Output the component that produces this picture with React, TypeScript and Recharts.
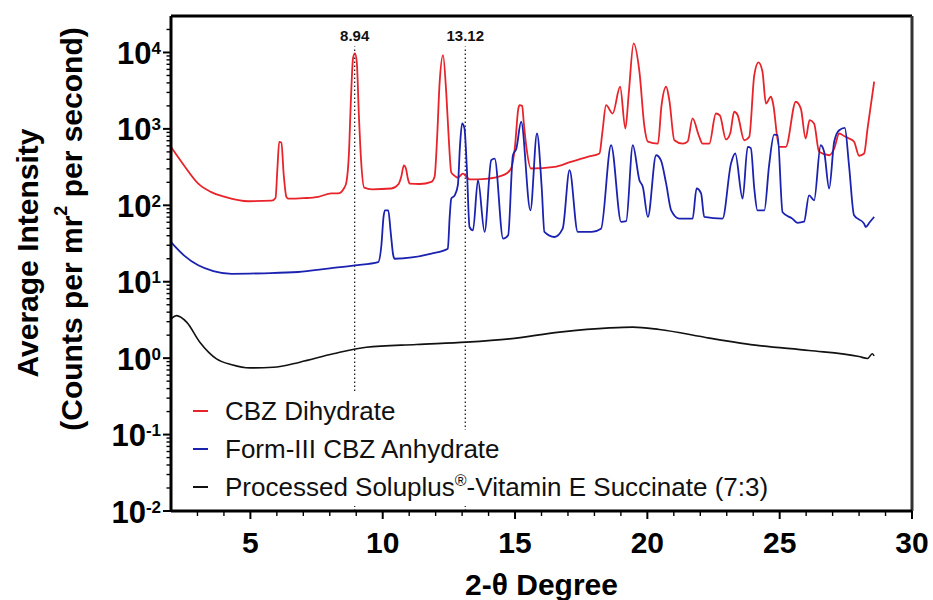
import React from 'react';
import { LineChart, Line, XAxis, YAxis, ReferenceLine, Legend } from 'recharts';

// ---- data (2-theta degree, average intensity) ----
const dihydrate: [number, number][] = [
  [2.0, 580], [2.5, 330], [3.03, 192], [3.5, 150], [4.04, 129], [4.92, 113], [5.8, 115], [5.95, 125],
  [6.02, 300], [6.09, 678], [6.17, 660], [6.26, 250], [6.36, 129], [6.43, 122], [7.0, 124], [7.56, 129],
  [8.06, 143], [8.31, 143], [8.55, 170], [8.63, 203], [8.72, 450], [8.8, 2500], [8.88, 8500], [8.95, 9730],
  [9.02, 7500], [9.1, 1500], [9.18, 400], [9.3, 170], [9.6, 162], [10.33, 166], [10.6, 190], [10.7, 236],
  [10.8, 334], [10.88, 300], [10.95, 224], [11.02, 192], [11.4, 190], [11.84, 203], [11.96, 236],
  [12.05, 700], [12.15, 4000], [12.28, 9250], [12.4, 3000], [12.5, 700], [12.59, 270], [12.72, 243],
  [12.84, 230], [13.03, 259], [13.15, 240], [13.28, 218], [13.9, 222], [14.6, 252], [14.85, 303],
  [15.0, 600], [15.12, 1800], [15.17, 2040], [15.27, 2000], [15.33, 1200], [15.42, 611], [15.6, 303],
  [16.49, 318], [17.1, 370], [17.74, 431], [18.19, 476], [18.3, 900], [18.44, 2040], [18.69, 1590],
  [18.97, 3560], [19.17, 1010], [19.3, 3000], [19.48, 13150], [19.7, 5600], [19.89, 1065], [20.02, 680],
  [20.4, 640], [20.53, 1960], [20.71, 3560], [20.83, 2380], [21.02, 710], [21.34, 640], [21.52, 680],
  [21.71, 1370], [21.94, 826], [22.09, 640], [22.34, 640], [22.59, 1590], [22.74, 1500], [22.97, 727],
  [23.13, 870], [23.28, 1675], [23.41, 1520], [23.66, 710], [23.85, 788], [24.04, 5060], [24.2, 7420],
  [24.35, 5600], [24.48, 2150], [24.67, 2640], [24.75, 2150], [24.98, 581], [25.23, 581], [25.61, 2266],
  [25.8, 1840], [25.98, 748], [26.13, 1300], [26.3, 1180], [26.49, 501], [26.87, 452], [27.06, 553],
  [27.25, 870], [27.45, 800], [27.62, 748], [27.81, 680], [28.0, 445], [28.19, 476], [28.32, 1010],
  [28.57, 4140],
];

const anhydrate: [number, number][] = [
  [2.0, 33], [2.5, 22], [3.03, 16.4], [3.6, 13.8], [4.29, 12.7], [5.5, 12.9], [6.8, 13.4], [8.0, 15],
  [8.94, 16.4], [9.83, 18.1], [9.95, 30], [10.03, 70], [10.08, 86], [10.21, 86], [10.3, 45], [10.4, 22],
  [10.45, 20], [11.84, 23.3], [12.46, 27], [12.53, 70], [12.59, 122], [12.72, 135], [12.84, 184],
  [12.92, 600], [13.0, 1180], [13.09, 1010], [13.18, 300], [13.28, 52], [13.41, 47], [13.6, 213],
  [13.85, 44.8], [14.1, 389], [14.23, 409], [14.55, 36.6], [14.74, 40.5], [14.92, 452], [15.05, 553],
  [15.23, 1240], [15.58, 86], [15.83, 870], [16.01, 166], [16.11, 44.8], [16.49, 38.5], [16.8, 49.5],
  [17.06, 288], [17.37, 44.8], [17.9, 45], [18.25, 49.5], [18.63, 611], [19.01, 60.6], [19.2, 62],
  [19.45, 611], [19.7, 213], [19.83, 174], [20.02, 70.5], [20.33, 452], [20.51, 389], [20.71, 192],
  [20.9, 86], [21.21, 67], [21.71, 67], [21.86, 166], [22.03, 143], [22.15, 70.5], [22.84, 67],
  [23.16, 351], [23.32, 476], [23.6, 122], [23.79, 581], [23.91, 560], [24.04, 166], [24.16, 86],
  [24.42, 86], [24.6, 334], [24.79, 840], [24.92, 826], [25.11, 81], [25.48, 67], [25.67, 59],
  [25.92, 61], [26.11, 135], [26.3, 116], [26.55, 611], [26.68, 501], [26.87, 166], [27.06, 680],
  [27.25, 961], [27.46, 1030], [27.62, 334], [27.81, 74], [28.19, 57.6], [28.25, 52], [28.4, 60],
  [28.57, 70.5],
];

const soluplus: [number, number][] = [
  [2.0, 3.27], [2.21, 3.6], [2.59, 2.96], [3.09, 1.62], [3.72, 0.98], [4.3, 0.82], [4.98, 0.746],
  [5.86, 0.76], [6.87, 0.886], [8.13, 1.14], [9.38, 1.39], [11.27, 1.51], [13.16, 1.62], [14.79, 1.79],
  [16.68, 2.19], [18.57, 2.49], [19.45, 2.55], [20.45, 2.37], [22.34, 1.83], [24.23, 1.46], [26.11, 1.26],
  [28.0, 1.05], [28.32, 0.99], [28.5, 1.14], [28.57, 1.07],
];

const xTicks = [3, 4, 5, 6, 7, 8, 9, 10, 11, 12, 13, 14, 15, 16, 17, 18, 19, 20, 21, 22, 23, 24, 25, 26, 27, 28, 29, 30];
const yDecades = [0.01, 0.1, 1, 10, 100, 1000, 10000];
const yMinorMultipliers = [2, 3, 4, 5, 6, 7, 8, 9];
const markers = [8.94, 13.12];

const FONT = '"Liberation Sans", Arial, Helvetica, sans-serif';

const toRows = (pts: [number, number][]) => pts.map(([x, y]) => ({ x, y }));

const series = [
  { name: 'CBZ Dihydrate', color: '#e8232a', data: toRows(dihydrate), width: 1.8 },
  { name: 'Form-III CBZ Anhydrate', color: '#1c22b0', data: toRows(anhydrate), width: 1.8 },
  { name: 'Processed Soluplus', color: '#111111', data: toRows(soluplus), width: 1.6 },
];

const yTicks: number[] = [];
yDecades.forEach((d) => {
  yTicks.push(d);
  if (d < 10000) yMinorMultipliers.forEach((m) => yTicks.push(+(d * m).toPrecision(3)));
});
yTicks.push(20000);

const YTick = (props: any) => {
  const { x, y, payload } = props;
  const v = payload.value;
  const lg = Math.log10(v);
  const e = Math.round(lg);
  const major = Math.abs(lg - e) < 1e-6;
  return (
    <g>
      <line x1={x} x2={x - (major ? 8 : 4.5)} y1={y} y2={y} stroke="#000" strokeWidth={major ? 2 : 1.4} />
      {major && (
        <text x={x - 10} y={y + 11.5} textAnchor="end" fontFamily={FONT} fontSize={31} fontWeight="bold" fill="#000">
          10
          <tspan dy={-10} fontSize={17}>{e}</tspan>
        </text>
      )}
    </g>
  );
};

const XTick = (props: any) => {
  const { x, y, payload } = props;
  const v = payload.value;
  const major = v % 5 === 0;
  return (
    <g>
      <line x1={x} x2={x} y1={y} y2={y + (major ? 8 : 5)} stroke="#000" strokeWidth={major ? 2 : 1.4} />
      {major && (
        <text x={x} y={y + 42} textAnchor="middle" fontFamily={FONT} fontSize={30} fontWeight="bold" fill="#000">
          {v}
        </text>
      )}
    </g>
  );
};

const XTitle = (props: any) => {
  const vb = props.viewBox || { x: 171, y: 511, width: 741 };
  return (
    <text x={vb.x + vb.width / 2} y={vb.y + 84} textAnchor="middle" fontFamily={FONT} fontSize={30} fontWeight="bold" fill="#000">
      2-θ Degree
    </text>
  );
};

const YTitle = () => (
  <g fontFamily={FONT} fontWeight="bold" fill="#000">
    <text x={38} y={253} transform="rotate(-90, 38, 253)" textAnchor="middle" fontSize={30}>
      Average Intensity
    </text>
    <text x={82} y={229} transform="rotate(-90, 82, 229)" textAnchor="middle" fontSize={30}>
      <tspan>(Counts per mr</tspan>
      <tspan dy={-15} fontSize={18}>2</tspan>
      <tspan dy={15}> per second)</tspan>
    </text>
  </g>
);

const LegendBox = () => (
  <div style={{ fontFamily: FONT, fontSize: 26, color: '#111' }}>
    {series.map((s, i) => (
      <div
        key={s.name}
        style={{ display: 'flex', alignItems: 'center', height: 38, background: '#fff', width: 'fit-content', paddingRight: 4 }}
      >
        <span style={{ display: 'inline-block', width: 15, height: 2, background: s.color, marginLeft: 8, marginRight: 17 }} />
        <span style={{ whiteSpace: 'nowrap', lineHeight: '38px' }}>
          {i === 2 ? (
            <>
              Processed Soluplus<sup style={{ fontSize: 16, lineHeight: 0 }}>®</sup>-Vitamin E Succinate (7:3)
            </>
          ) : (
            s.name
          )}
        </span>
      </div>
    ))}
  </div>
);

export default function App() {
  return (
    <div style={{ position: 'absolute', left: 0, top: 0, width: 933, height: 600, background: '#fff' }}>
      <LineChart width={933} height={600} margin={{ top: 16, right: 21, bottom: 0, left: 0 }}>
        <XAxis
          dataKey="x"
          type="number"
          domain={[2, 30]}
          ticks={xTicks}
          interval={0}
          allowDataOverflow
          tickSize={0}
          tickMargin={0}
          tickLine={false}
          tick={<XTick />}
          axisLine={{ stroke: '#000', strokeWidth: 3 }}
          height={89}
          label={{ content: <XTitle /> }}
        />
        <YAxis
          type="number"
          scale="log"
          domain={[0.01, 30000]}
          ticks={yTicks}
          interval={0}
          allowDataOverflow
          tickSize={0}
          tickMargin={0}
          tickLine={false}
          tick={<YTick />}
          axisLine={{ stroke: '#000', strokeWidth: 3 }}
          width={171}
          label={{ content: <YTitle /> }}
        />
        <ReferenceLine y={30000} stroke="#000" strokeWidth={3} />
        <ReferenceLine x={30} stroke="#333" strokeWidth={3} />
        {markers.map((m) => (
          <ReferenceLine
            key={m}
            segment={[{ x: m, y: 0.01 }, { x: m, y: 12000 }]}
            stroke="#222"
            strokeWidth={1.3}
            strokeDasharray="1.5 2.5"
            label={{ value: m.toFixed(2), position: 'top', fontSize: 15, fontWeight: 'bold', fill: '#111', fontFamily: FONT }}
          />
        ))}
        {series.map((s) => (
          <Line
            key={s.name}
            name={s.name}
            data={s.data}
            dataKey="y"
            type="monotone"
            stroke={s.color}
            strokeWidth={s.width}
            dot={false}
            activeDot={false}
            isAnimationActive={false}
          />
        ))}
        <Legend
          layout="vertical"
          align="center"
          verticalAlign="middle"
          content={<LegendBox />}
          wrapperStyle={{ position: 'absolute', left: 185, top: 392, width: 'auto', height: 'auto' }}
        />
      </LineChart>
    </div>
  );
}
